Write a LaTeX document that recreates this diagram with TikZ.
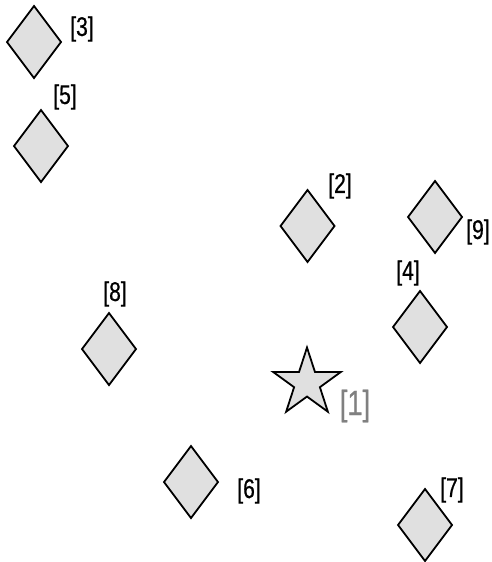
\documentclass[tikz,border=0pt]{standalone}
\usepackage{fontspec}
\setmainfont{Liberation Sans}[FakeStretch=0.78,FakeBold=0.6]
\usetikzlibrary{shapes.geometric}
\definecolor{shapefill}{HTML}{E0E0E0}
\definecolor{labgray}{HTML}{808080}
\tikzset{
  dia/.style={diamond, draw=black, fill=shapefill, line width=1.8pt, minimum width=54pt, minimum height=72pt, inner sep=0pt, outer sep=0pt},
  starshape/.style={star, star points=5, star point ratio=2.618, draw=black, fill=shapefill, line width=1.8pt, minimum size=71pt, inner sep=0pt, outer sep=0pt},
  lab/.style={font=\fontsize{27}{29}\selectfont, inner sep=0pt},
  biglab/.style={font=\fontsize{35}{37}\selectfont, text=labgray, inner sep=0pt}
}
\begin{document}
\begin{tikzpicture}[x=1pt,y=-1pt]
\useasboundingbox (0,0) rectangle (492,562);
\node[dia] (d3) at (34,42) {};
\node[lab] (l3) at (82,29) {[3]};
\node[dia] (d5) at (41,146) {};
\node[lab] (l5) at (65,97) {[5]};
\node[dia] (d2) at (307.5,226) {};
\node[lab] (l2) at (340,186) {[2]};
\node[dia] (d9) at (435,217) {};
\node[lab] (l9) at (478,232) {[9]};
\node[dia] (d4) at (420,327) {};
\node[lab] (l4) at (408,273) {[4]};
\node[dia] (d8) at (109,349) {};
\node[lab] (l8) at (115,294) {[8]};
\node[dia] (d6) at (191,482) {};
\node[lab] (l6) at (249,491) {[6]};
\node[dia] (d7) at (425,525) {};
\node[lab] (l7) at (452,490) {[7]};
\node[starshape] (s1) at (307,383) {};
\node[biglab] (l1) at (355,406) {[1]};
\end{tikzpicture}
\end{document}
